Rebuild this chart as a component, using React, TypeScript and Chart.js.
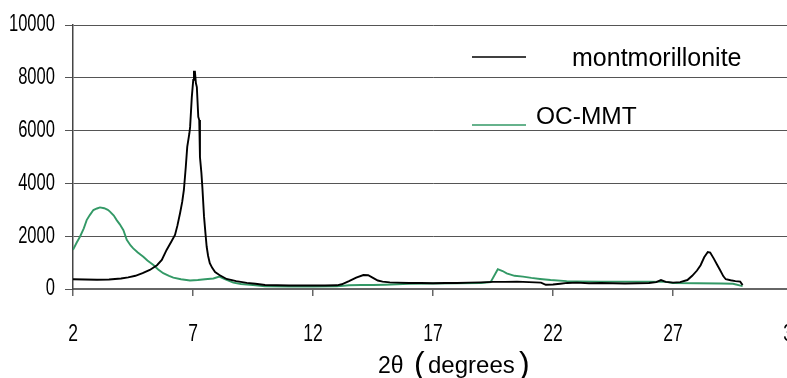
import React, { useEffect, useRef } from "react";
import { Chart, registerables } from "chart.js";
Chart.register(...registerables);

const xTickValues = [2, 7, 12, 17, 22, 27, 32];
const yTickValues = [0, 2000, 4000, 6000, 8000, 10000];

const montX = [2.0, 2.5, 3.0, 3.5, 4.0, 4.3, 4.6, 4.9, 5.2, 5.5, 5.7, 5.9, 6.1, 6.25, 6.35, 6.46, 6.55, 6.62, 6.7, 6.76, 6.85, 6.88, 6.95, 7.01, 7.04, 7.08, 7.12, 7.16, 7.22, 7.26, 7.29, 7.35, 7.39, 7.46, 7.52, 7.57, 7.63, 7.7, 7.8, 7.92, 8.1, 8.4, 8.8, 9.24, 9.6, 10, 10.5, 11, 11.5, 12, 12.5, 13, 13.2, 13.5, 13.8, 14.1, 14.3, 14.5, 14.7, 14.9, 15.2, 15.5, 16, 16.5, 17, 17.5, 18, 18.5, 19, 19.5, 20, 20.5, 21, 21.5, 21.7, 22, 22.3, 22.6, 23, 23.5, 24, 24.5, 25, 25.5, 26, 26.3, 26.5, 26.7, 27, 27.3, 27.6, 27.8, 28, 28.15, 28.3, 28.45, 28.55, 28.7, 28.85, 28.96, 29.1, 29.2, 29.4, 29.6, 29.8, 29.9];
const montY = [370, 360, 350, 360, 400, 440, 500, 600, 720, 900, 1100, 1480, 1800, 2050, 2400, 2870, 3300, 3750, 4630, 5380, 5900, 6140, 7270, 7920, 8230, 8230, 7800, 7650, 6520, 6400, 5000, 4400, 3860, 2740, 2100, 1600, 1250, 980, 800, 640, 530, 380, 300, 230, 200, 150, 140, 130, 130, 130, 130, 140, 180, 300, 430, 530, 520, 420, 320, 280, 250, 240, 230, 230, 220, 230, 230, 240, 250, 270, 270, 280, 260, 240, 160, 170, 200, 230, 240, 220, 230, 220, 210, 220, 230, 260, 340, 270, 240, 260, 340, 500, 700, 900, 1200, 1400, 1380, 1150, 900, 720, 480, 370, 330, 300, 280, 150];

const ocX = [2.0, 2.15, 2.29, 2.45, 2.57, 2.7, 2.85, 3.0, 3.125, 3.3, 3.45, 3.54, 3.7, 3.82, 3.95, 4.1, 4.24, 4.4, 4.51, 4.7, 4.93, 5.1, 5.35, 5.55, 5.76, 6.0, 6.18, 6.5, 6.875, 7.2, 7.5, 7.85, 8.1, 8.3, 8.68, 9.0, 9.5, 10, 11, 12, 13, 13.5, 14, 14.5, 15, 15.5, 16, 17, 18, 19, 19.4, 19.55, 19.7, 19.9, 20.07, 20.4, 20.75, 21.1, 21.46, 21.9, 22.57, 23, 24, 25, 26, 26.7, 27, 28, 29, 29.5, 29.9];
const ocY = [1480, 1750, 1980, 2300, 2610, 2800, 2990, 3050, 3090, 3060, 3000, 2930, 2780, 2610, 2450, 2230, 1860, 1650, 1540, 1380, 1220, 1080, 910, 740, 600, 500, 430, 370, 320, 340, 370, 400, 470, 380, 240, 190, 150, 100, 90, 90, 100, 140, 150, 150, 160, 180, 200, 210, 220, 230, 260, 500, 750, 680, 590, 500, 470, 420, 380, 340, 300, 290, 280, 280, 280, 270, 230, 215, 210, 200, 110];

const seriesNames = ["montmorillonite", "OC-MMT"];
const seriesColors = ["#000000", "#339966"];

const textFamily = '"Liberation Sans", Arial, sans-serif';

const overlay = {
  id: "overlay",
  afterDraw(chart: any) {
    const ctx = chart.ctx;
    const xs = chart.scales.x;
    const ys = chart.scales.y;
    ctx.save();
    ctx.fillStyle = "#000";
    ctx.font = `23px ${textFamily}`;
    // y tick labels (condensed)
    ctx.textAlign = "right";
    ctx.textBaseline = "middle";
    yTickValues.forEach((v) => {
      ctx.save();
      ctx.translate(55, ys.getPixelForValue(v));
      ctx.scale(0.72, 1);
      ctx.fillText(String(v), 0, 0);
      ctx.restore();
    });
    // x tick labels (condensed)
    ctx.textAlign = "center";
    xTickValues.forEach((v) => {
      ctx.save();
      ctx.translate(xs.getPixelForValue(v), 335);
      ctx.scale(0.76, 1);
      ctx.fillText(String(v), 0, 0);
      ctx.restore();
    });
    // legend
    ctx.lineWidth = 1.5;
    ctx.strokeStyle = seriesColors[0];
    ctx.beginPath();
    ctx.moveTo(472, 57);
    ctx.lineTo(526, 57);
    ctx.stroke();
    ctx.strokeStyle = seriesColors[1];
    ctx.beginPath();
    ctx.moveTo(472, 125);
    ctx.lineTo(526, 125);
    ctx.stroke();
    ctx.textBaseline = "alphabetic";
    ctx.textAlign = "left";
    ctx.font = `25px ${textFamily}`;
    ctx.fillText(seriesNames[0], 572, 66);
    ctx.font = `24.5px ${textFamily}`;
    ctx.fillText(seriesNames[1], 536, 124);
    // axis title
    ctx.font = `23px ${textFamily}`;
    ctx.fillText("2θ", 378, 373);
    ctx.font = `32px ${textFamily}`;
    ctx.fillText("(", 414, 374);
    ctx.font = `24px ${textFamily}`;
    ctx.fillText("degrees", 428, 373);
    ctx.font = `32px ${textFamily}`;
    ctx.fillText(")", 519, 374);
    ctx.restore();
  },
};

export default function App() {
  const ref = useRef<HTMLCanvasElement>(null);
  useEffect(() => {
    const chart = new Chart(ref.current!, {
      type: "line",
      data: {
        datasets: [
          {
            label: seriesNames[0],
            data: montX.map((x, i) => ({ x, y: montY[i] })),
            borderColor: seriesColors[0],
            borderWidth: 1.9,
            pointRadius: 0,
            tension: 0,
          },
          {
            label: seriesNames[1],
            data: ocX.map((x, i) => ({ x, y: ocY[i] })),
            borderColor: seriesColors[1],
            borderWidth: 1.9,
            pointRadius: 0,
            tension: 0,
          },
        ],
      },
      options: {
        responsive: false,
        maintainAspectRatio: false,
        animation: false,
        layout: { padding: { top: 25, right: 17, left: 0, bottom: 0 } },
        plugins: { legend: { display: false }, tooltip: { enabled: false } },
        scales: {
          x: {
            type: "linear",
            min: 2,
            max: 32,
            afterBuildTicks: (s: any) => {
              s.ticks = xTickValues.map((v) => ({ value: v }));
            },
            afterFit: (s: any) => {
              s.height = 89;
            },
            ticks: { display: true, color: "rgba(0,0,0,0)", autoSkip: false, maxRotation: 0, font: { size: 10 } },
            grid: { drawOnChartArea: false, drawTicks: true, tickLength: 7, color: "#666", lineWidth: 1.5 },
            border: { color: "#666", width: 2 },
          },
          y: {
            min: 0,
            max: 10000,
            afterBuildTicks: (s: any) => {
              s.ticks = yTickValues.map((v) => ({ value: v }));
            },
            afterFit: (s: any) => {
              s.width = 73;
            },
            ticks: { display: true, color: "rgba(0,0,0,0)", font: { size: 10 } },
            grid: { color: "#555", lineWidth: 1, tickLength: 8 },
            border: { color: "#444", width: 1.5 },
          },
        },
      },
      plugins: [overlay],
    });
    return () => chart.destroy();
  }, []);
  return (
    <div style={{ position: "fixed", left: 0, top: 0, width: 787, height: 378, overflow: "hidden", background: "#fff" }}>
      <div style={{ width: 810, height: 378 }}>
        <canvas ref={ref} width={810} height={378} style={{ display: "block", width: 810, height: 378 }} />
      </div>
    </div>
  );
}
